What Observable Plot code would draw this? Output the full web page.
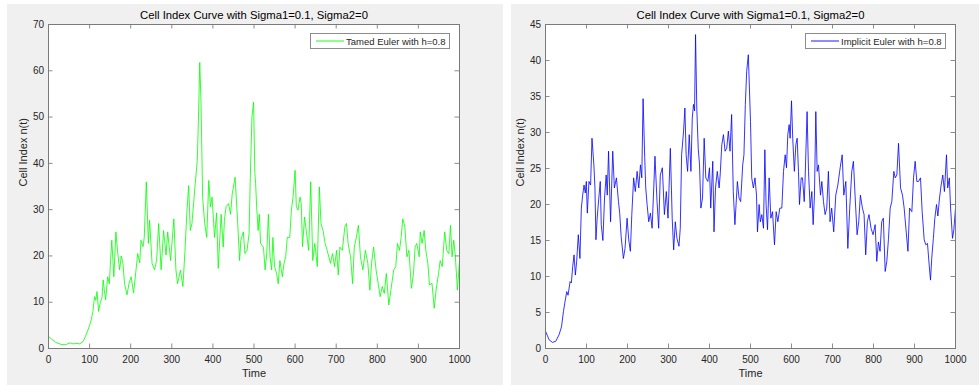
<!DOCTYPE html>
<html><head><meta charset="utf-8">
<script src="https://cdn.jsdelivr.net/npm/d3@7"></script>
<script src="https://cdn.jsdelivr.net/npm/@observablehq/plot@0.6"></script>
<style>
html,body{margin:0;padding:0;background:#fff;}
#root{position:relative;width:979px;height:385px;overflow:hidden;font-family:"Liberation Sans",Arial,Helvetica,sans-serif;}
.panel{position:absolute;background:#f0f0f0;}
.panel svg{position:absolute;left:0;top:0;}
.legend{position:absolute;background:#fff;border:1px solid #8c8c8c;box-sizing:border-box;font-size:9.5px;color:#262626;white-space:nowrap;}
.legend svg{position:absolute;left:4px;top:0;}
.legend span{position:absolute;top:50%;transform:translateY(-50%);}
</style></head><body><div id="root"></div>
<script>
const titleText = "Cell Index Curve with Sigma1=0.1, Sigma2=0";
const xLabel = "Time";
const yLabel = "Cell Index n(t)";
const xTicks = [0,100,200,300,400,500,600,700,800,900,1000];
const tamedYTicks = [0,10,20,30,40,50,60,70];
const implicitYTicks = [0,5,10,15,20,25,30,35,40,45];
const tamedLegend = "Tamed Euler with h=0.8";
const implicitLegend = "Implicit Euler with h=0.8";

const tamedTime = [0,8,18,30,38,47,53,60,68,76,84,90,96,100,104,108,112,115,118,122,126,130,133,136,139,144,148,151,154,159,164,168,173,177,181,185,191,196,201,207,213,217,222,225,230,233,238,243,246,252,258,263,268,274,280,286,290,297,305,310,314,321,327,332,337,341,345,349,353,357,362,365,368,371,375,380,385,390,394,398,404,409,413,420,425,428,432,438,443,447,454,460,465,468,474,478,483,488,491,495,499,
502,504,506.5,510,513,516,523,527,531,535,539,543,546,550,555,559,563,569,573,577,581,587,591,595,600,603,607,612,615,618,623,628,633,638,643,648,654,659,663,668,673,678,686,691,696,701,705,709,715,721,725,729,735,740,744,749,754,759,765,771,777,782,786,791,797,802,807,812,817,822,828,833,840,845,849,854,858,862,867,872,877,883,888,892,896,902,904.5,909,914,918,923,927,933,938.5,943,949,953,958,964,969,974,978,982,986,990,995,1000];
const tamedValue = [2.6,2.0,1.3,0.9,0.8,1.0,1.2,1.0,1.1,1.0,1.5,2.6,4.0,5.0,6.2,8.0,11.2,10.4,12.3,8.0,10.0,10.9,14.8,12.5,10.5,15.5,14.0,19.0,23.4,15.5,25.2,21.0,17.0,20.0,18.5,14.0,11.6,14.1,15.5,12.0,17.0,20.5,18.5,23.4,22.0,24.0,36.0,22.7,27.7,18.4,17.0,19.0,27.0,17.0,25.5,20.2,25.2,19.0,28.0,17.0,14.0,16.9,13.4,21.0,29.9,35.2,25.5,27.0,31.3,35.6,40.6,50.0,61.8,53.5,32.7,27.0,24.0,36.3,30.6,32.7,24.0,29.3,17.3,29.0,21.9,27.7,30.6,31.3,29.0,33.4,37.0,27.7,19.0,23.4,25.2,20.5,21.2,24.8,37.0,50.0,53.2,
38.0,35.6,30.6,25.5,29.0,22.7,21.9,17.0,20.5,29.0,19.8,17.0,24.0,17.7,16.2,14.0,19.0,15.5,18.4,19.8,24.0,24.0,29.9,32.7,38.5,30.6,29.9,32.7,31.3,22.0,28.4,24.8,21.2,36.0,19.0,22.7,17.7,34.9,27.0,25.5,22.7,21.2,18.4,20.5,17.7,21.2,15.9,21.9,21.2,26.3,27.0,22.7,19.8,14.0,21.9,24.0,26.6,19.8,17.0,21.2,18.4,12.6,18.4,21.9,17.0,14.1,11.2,13.4,11.9,16.2,9.4,12.6,17.0,17.7,22.7,21.2,24.0,28.0,26.3,19.8,21.2,13.0,16.2,21.9,22.7,19.8,25.2,22.7,25.5,21.2,18.4,13.7,14.1,8.7,12.6,16.2,19.0,17.7,25.2,21.2,20.5,26.6,19.8,23.4,19.8,12.6,19.0];

const implicitTime = [0,8.9,17,25,33,39,43.7,47,51.8,55,60,63,66.4,69.6,72.9,76,80,84,87.4,90.7,94,97,99.6,102,106,110,113.4,118,120.6,123,126,130,133.6,136,140,144,148,150.6,153.8,158.7,164,168,173,178,181,184.6,190,194,199,203,207,210.5,215,219,223.5,227.5,231.6,234.8,238,242,244.5,247.8,251.8,255.9,260,264,267,272,276,280,285,290,294.7,298.8,304.5,309,312.6,316.6,320.6,325.5,328.7,332,336.8,340,343,346.6,350.6,354.7,358,361,363.6,366,369,372.5,375.7,379,383,387,391,396,400,403,408,411,414.6,419,423.5,426,430,434,438,442,446,450,454,458,462,468,472,476,481,484,487.4,490.7,494.7,
500,503,507,511,514.6,517,521,524,527.6,531.7,535,538,541.5,545.5,549.6,553.7,558.5,562.6,566.7,571.5,576.4,580.5,584.6,587.8,591,594.3,596.7,600,603,607,610.6,613.8,617,619.5,623.6,626.8,631,633,638,641.5,645.5,649.6,652.8,656,659.3,662.6,665.8,670.7,674,678,682,686,690,694,698,703,708,713,718.7,723.6,727.6,732.5,737.4,742,747,751,755,760,764,768,773,777,781,785,789,794,799,804,808,812,816,820,824,828.5,832.5,836.6,840.7,844.7,849.6,853,857,861,866,870.7,874.8,879,884,888,893.5,897.6,901.6,905.7,909.8,914.6,918.7,923.6,927.6,931.7,935.8,939,942,946,949.6,953.7,957,961,965,969,973,978,981,985,988,992.7,996,1000];
const implicitValue = [2.4,1.2,0.85,1.0,1.9,3.0,5.1,6.3,7.9,7.4,9.3,9.1,11.4,13.0,10.2,12.1,15.8,12.5,19.5,21.3,22.7,21.6,23.2,18.8,23.2,22.7,29.2,25.5,22.3,15.1,18.1,20.9,23.2,17.2,15.0,20.9,24.1,21.3,27.4,17.6,27.4,22.3,23.7,20.4,18.8,15.5,12.5,13.9,18.1,15.1,13.5,18.6,23.7,21.8,24.6,22.3,25.5,23.7,34.7,26.5,22.3,20.0,17.6,18.8,16.7,22.3,26.7,20.4,16.7,24.1,25.1,18.6,21.8,18.1,27.8,18.1,13.7,17.6,15.3,14.2,16.7,26.9,30.2,33.4,26.9,24.6,29.7,24.6,32.0,33.9,33.0,43.6,33.4,27.8,25.5,19.5,20.9,29.2,23.7,23.2,25.1,19.5,26.0,16.2,22.3,24.6,22.3,24.1,28.3,29.7,27.4,27.8,30.2,27.4,32.5,21.8,17.2,23.2,20.9,20.4,25.5,26.9,33.9,38.5,40.8,
31.5,23.7,22.3,23.7,21.3,16.2,20.0,17.6,18.6,16.7,27.6,20.0,16.5,23.7,18.1,19.0,14.4,19.0,17.6,19.5,19.5,24.6,26.9,25.1,29.7,31.1,29.2,34.4,29.2,24.6,28.3,29.2,24.6,20.0,23.7,23.7,20.4,23.2,32.9,24.6,19.5,21.8,17.2,21.3,32.9,24.6,25.5,21.3,23.2,20.4,18.6,19.5,24.6,17.6,19.5,16.2,21.3,22.7,25.1,26.9,21.3,23.2,13.9,19.5,24.6,26.0,21.3,15.8,17.6,21.3,19.5,18.6,13.0,17.6,18.6,16.7,15.8,17.2,12.1,14.8,13.5,17.6,18.1,10.7,12.1,15.3,19.5,20.4,24.6,23.7,24.1,28.5,22.3,21.3,19.5,16.7,13.5,19.5,19.0,23.7,26.0,23.2,23.2,23.7,19.0,15.1,14.4,14.6,11.6,9.5,12.5,15.3,18.1,20.0,18.4,20.9,22.7,24.1,21.8,26.9,22.3,23.7,19.5,15.3,16.5,19.5];

const root = document.getElementById("root");
const tickColor = "#6f6f6f";
const frameColor = "#7a7a7a";
const textColor = "#262626";
const plainNumber = d => String(d);

function makePanel(cfg) {
  const panel = document.createElement("div");
  panel.className = "panel";
  Object.assign(panel.style, {left: cfg.left + "px", top: cfg.top + "px", width: cfg.width + "px", height: cfg.height + "px"});
  root.appendChild(panel);
  const m = cfg.margin;
  const fw = cfg.width - m.left - m.right;
  const fh = cfg.height - m.top - m.bottom;
  const data = cfg.time.map((t, i) => ({t, v: cfg.value[i]}));
  const chart = Plot.plot({
    width: cfg.width, height: cfg.height,
    marginLeft: m.left, marginRight: m.right, marginTop: m.top, marginBottom: m.bottom,
    style: {background: "transparent", fontFamily: '"Liberation Sans",Arial,Helvetica,sans-serif', fontSize: "10px", color: textColor, overflow: "visible"},
    x: {domain: [0, 1000]},
    y: {domain: cfg.yDomain},
    marks: [
      Plot.frame({fill: "white", stroke: "none"}),
      Plot.line(data, {x: "t", y: "v", stroke: cfg.color, strokeWidth: 0.8}),
      Plot.ruleX(xTicks, {x: d => d, insetTop: fh - 4.5, stroke: tickColor, strokeWidth: 0.8}),
      Plot.ruleX(xTicks, {x: d => d, insetBottom: fh - 4.5, stroke: tickColor, strokeWidth: 0.8}),
      Plot.ruleY(cfg.yTicks, {y: d => d, insetRight: fw - 4.5, stroke: tickColor, strokeWidth: 0.8}),
      Plot.ruleY(cfg.yTicks, {y: d => d, insetLeft: fw - 4.5, stroke: tickColor, strokeWidth: 0.8}),
      Plot.frame({stroke: frameColor, strokeWidth: 1}),
      Plot.axisX({ticks: xTicks, tickFormat: plainNumber, tickSize: 0, tickPadding: 7, label: null, fontSize: 10, fill: textColor}),
      Plot.axisY({ticks: cfg.yTicks, tickFormat: plainNumber, tickSize: 0, tickPadding: 4.5, label: null, fontSize: 10, fill: textColor}),
      Plot.text([titleText], {text: d => d, frameAnchor: "top", lineAnchor: "middle", dy: -9, fontSize: 11.3, fill: "#000"}),
      Plot.text([xLabel], {text: d => d, frameAnchor: "bottom", lineAnchor: "middle", dy: 25, fontSize: 11, fill: textColor}),
      Plot.text([yLabel], {text: d => d, frameAnchor: "left", lineAnchor: "middle", dx: -25, rotate: -90, fontSize: 11, fill: textColor})
    ]
  });
  panel.appendChild(chart);
  const lg = document.createElement("div");
  lg.className = "legend";
  const b = cfg.legendBox;
  Object.assign(lg.style, {left: (b.left - cfg.left) + "px", top: (b.top - cfg.top) + "px", width: b.width + "px", height: b.height + "px"});
  lg.innerHTML = `<svg width="30" height="${b.height - 2}"><line x1="1" x2="29" y1="${(b.height - 2) / 2}" y2="${(b.height - 2) / 2}" stroke="${cfg.color}" stroke-width="0.9"/></svg><span style="left:35px">${cfg.legendText}</span>`;
  panel.appendChild(lg);
}

makePanel({
  left: 7, top: 4, width: 496, height: 381,
  margin: {left: 41, right: 44, top: 20, bottom: 37},
  time: tamedTime, value: tamedValue, color: "#00ff00",
  yDomain: [0, 70], yTicks: tamedYTicks, legendText: tamedLegend,
  legendBox: {left: 310, top: 33, width: 140, height: 16}
});
makePanel({
  left: 511, top: 4, width: 468, height: 381,
  margin: {left: 34, right: 24, top: 20, bottom: 37},
  time: implicitTime, value: implicitValue, color: "#0000ff",
  yDomain: [0, 45], yTicks: implicitYTicks, legendText: implicitLegend,
  legendBox: {left: 805, top: 33, width: 141, height: 16}
});
</script></body></html>
